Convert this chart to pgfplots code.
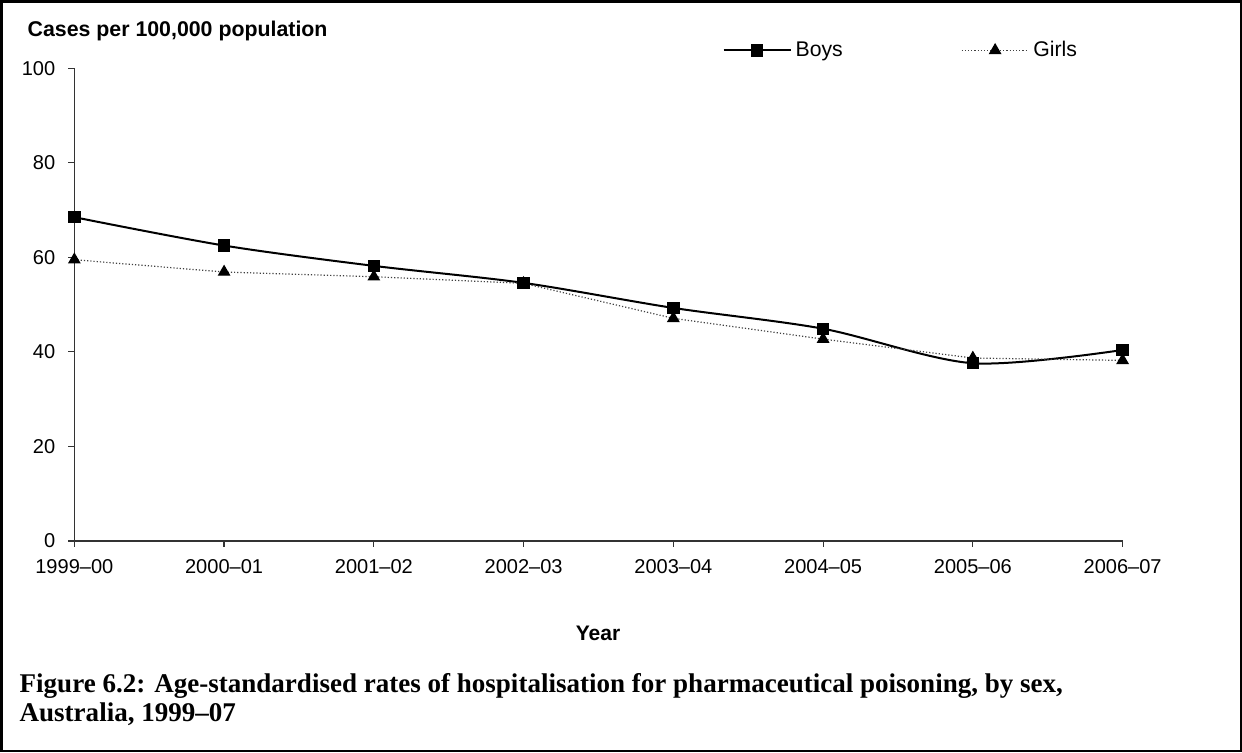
\documentclass[border=0pt]{standalone}
\usepackage{fontspec}
\setmainfont{Liberation Sans}
\newfontfamily\capfont{Liberation Serif}
\usepackage{pgfplots}
\pgfplotsset{compat=1.18}
\begin{document}
\begin{tikzpicture}
\begin{axis}[
  at={(0,0)}, anchor=south west,
  scale only axis, width=523.5pt, height=236pt,
  xmin=0, xmax=7, ymin=0, ymax=100,
  axis lines*=left,
  axis line style={line width=0.6pt, black!80},
  xtick={0,...,7},
  xticklabels={1999–00,2000–01,2001–02,2002–03,2003–04,2004–05,2005–06,2006–07},
  ytick={0,20,...,100},
  tick align=outside,
  major tick length=3pt,
  tick style={line width=0.6pt, black!80},
  /pgf/number format/assume math mode=true,
  ticklabel style={font=\fontsize{10}{12}\selectfont},
  xticklabel style={yshift=-3pt},
  yticklabel style={xshift=-3pt},
  clip=false,
  legend columns=2,
  legend style={draw=none, fill=none, at={(0.618,1.038)}, anchor=west,
    font=\fontsize{10.6}{12}\selectfont, inner sep=0pt},
  legend image code/.code={
    \draw[#1, mark=none] (0pt,0pt) -- (33.5pt,0pt);
    \path[#1, draw=none] plot coordinates {(16.75pt,0pt)};
  },
  /tikz/every even column/.append style={column sep=57pt},
]
\addplot[black, line width=1pt, smooth, tension=0.5, mark=square*, mark size=2.6pt,
  mark options={solid, fill=black}]
  coordinates {(0,68.5) (1,62.5) (2,58.2) (3,54.6) (4,49.3) (5,44.9) (6,37.6) (7,40.4)};
\addlegendentry{Boys}
\addplot[black!75, line width=0.6pt, densely dotted, mark=triangle*, mark size=3.1pt,
  mark options={solid, fill=black, draw=black}]
  coordinates {(0,59.5) (1,56.9) (2,55.9) (3,54.5) (4,47.1) (5,42.7) (6,38.7) (7,38.2)};
\addlegendentry{Girls}
\end{axis}
\node[anchor=west, font=\bfseries\fontsize{10.65}{12}\selectfont, inner sep=0pt] at (-23.5pt,254.5pt) {Cases per 100,000 population};
\node[font=\bfseries\fontsize{10.5}{12}\selectfont, inner sep=0pt] at (261.5pt,-46pt) {Year};
\node[anchor=west, font=\capfont\bfseries\fontsize{13.5}{15}\selectfont, inner sep=0pt] at (-27.5pt,-72.5pt) {Figure 6.2: Age-standardised rates of hospitalisation for pharmaceutical poisoning, by sex,};
\node[anchor=west, font=\capfont\bfseries\fontsize{13.5}{15}\selectfont, inner sep=0pt] at (-27.5pt,-86.5pt) {Australia, 1999–07};
\draw[line width=1.25pt] (-36.5pt,-105pt) rectangle (582.5pt,269.5pt);
\end{tikzpicture}
\end{document}
